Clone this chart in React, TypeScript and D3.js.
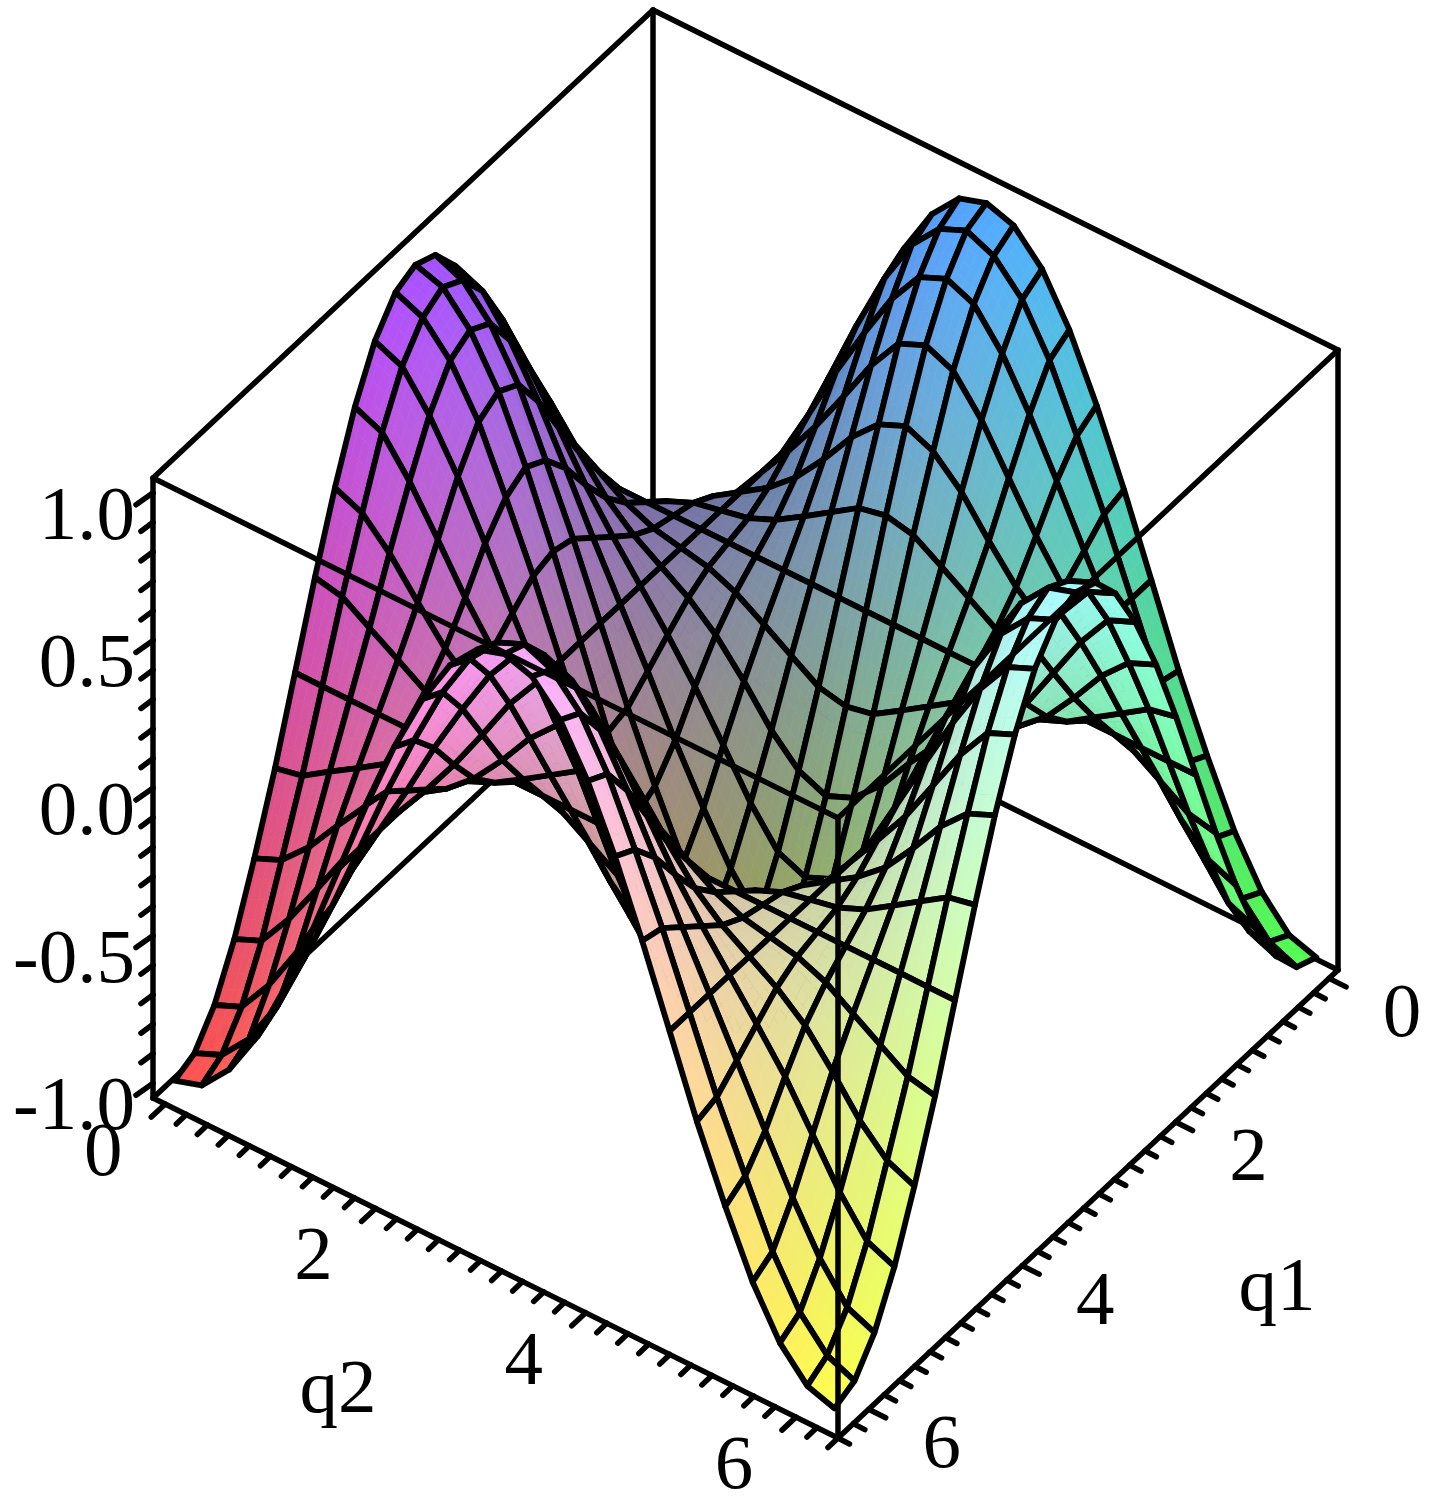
import React, { useMemo } from "react";
import * as d3 from "d3";

// grid positions along both axes (radians)
const q1Values = [0,.26,.52,.79,1.05,1.31,1.57,1.83,2.09,2.36,2.62,2.88,3.14,3.40,3.67,3.93,4.19,4.45,4.71,4.97,5.24,5.50,5.76,6.02,6.28];
const q2Values = [0,.26,.52,.79,1.05,1.31,1.57,1.83,2.09,2.36,2.62,2.88,3.14,3.40,3.67,3.93,4.19,4.45,4.71,4.97,5.24,5.50,5.76,6.02,6.28];

const low0 = [-1,-.97,-.87,-.71,-.5,-.26,0,.26,.5,.71,.87,.97,1,.97,.87,.71,.5,.26,0,-.26,-.5,-.71,-.87,-.97,-1];
const low1 = [-.97,-.93,-.83,-.67,-.46,-.24,0,.24,.46,.67,.83,.93,.97,.93,.83,.67,.46,.24,0,-.24,-.46,-.67,-.83,-.93,-.97];
const low2 = [-.87,-.83,-.71,-.55,-.37,-.18,0,.18,.37,.55,.71,.83,.87,.83,.71,.55,.37,.18,0,-.18,-.37,-.55,-.71,-.83,-.87];
const low3 = [-.71,-.67,-.55,-.4,-.25,-.12,0,.12,.25,.4,.55,.67,.71,.67,.55,.4,.25,.12,0,-.12,-.25,-.4,-.55,-.67,-.71];
const low4 = [-.5,-.46,-.37,-.25,-.14,-.06,0,.06,.14,.25,.37,.46,.5,.46,.37,.25,.14,.06,0,-.06,-.14,-.25,-.37,-.46,-.5];
const low5 = [-.26,-.24,-.18,-.12,-.06,-.02,0,.02,.06,.12,.18,.24,.26,.24,.18,.12,.06,.02,0,-.02,-.06,-.12,-.18,-.24,-.26];
const flat = [0,0,0,0,0,0,0,0,0,0,0,0,0,0,0,0,0,0,0,0,0,0,0,0,0];
const high5 = [.26,.24,.18,.12,.06,.02,0,-.02,-.06,-.12,-.18,-.24,-.26,-.24,-.18,-.12,-.06,-.02,0,.02,.06,.12,.18,.24,.26];
const high4 = [.5,.46,.37,.25,.14,.06,0,-.06,-.14,-.25,-.37,-.46,-.5,-.46,-.37,-.25,-.14,-.06,0,.06,.14,.25,.37,.46,.5];
const high3 = [.71,.67,.55,.4,.25,.12,0,-.12,-.25,-.4,-.55,-.67,-.71,-.67,-.55,-.4,-.25,-.12,0,.12,.25,.4,.55,.67,.71];
const high2 = [.87,.83,.71,.55,.37,.18,0,-.18,-.37,-.55,-.71,-.83,-.87,-.83,-.71,-.55,-.37,-.18,0,.18,.37,.55,.71,.83,.87];
const high1 = [.97,.93,.83,.67,.46,.24,0,-.24,-.46,-.67,-.83,-.93,-.97,-.93,-.83,-.67,-.46,-.24,0,.24,.46,.67,.83,.93,.97];
const high0 = [1,.97,.87,.71,.5,.26,0,-.26,-.5,-.71,-.87,-.97,-1,-.97,-.87,-.71,-.5,-.26,0,.26,.5,.71,.87,.97,1];
const zRows = [low0,low1,low2,low3,low4,low5,flat,high5,high4,high3,high2,high1,high0,high1,high2,high3,high4,high5,flat,low5,low4,low3,low2,low1,low0];

const qDomain = [-0.117, 6.4];
const zDomain = [-1.05, 1.05];
const qMinorTicks = [0,.2,.4,.6,.8,1,1.2,1.4,1.6,1.8,2,2.2,2.4,2.6,2.8,3,3.2,3.4,3.6,3.8,4,4.2,4.4,4.6,4.8,5,5.2,5.4,5.6,5.8,6,6.2,6.4];
const qMajorTicks = [0, 2, 4, 6];
const zMinorTicks = [-1,-.9,-.8,-.7,-.6,-.5,-.4,-.3,-.2,-.1,0,.1,.2,.3,.4,.5,.6,.7,.8,.9,1];
const zMajorTicks = ["-1.0", "-0.5", "0.0", "0.5", "1.0"];

const FONT = "'Liberation Serif', serif";
const L = [153, 1098];
const DS = [685, 340];
const DT = [500, -468];
const H = 620;

const sScale = d3.scaleLinear().domain(qDomain).range([0, 1]); // q2
const tScale = d3.scaleLinear().domain(qDomain).range([1, 0]); // q1
const hScale = d3.scaleLinear().domain(zDomain).range([0, H]);
const chan = d3.scaleLinear().domain([0, 1]).range([80, 255]);
const q1Col = d3.scaleLinear().domain([0, 6.28]).range([0, 1]);
const zCol = d3.scaleLinear().domain([-1, 1]).range([0, 1]);

const base = (s: number, t: number, h = 0): [number, number] => [
  L[0] + s * DS[0] + t * DT[0],
  L[1] + s * DS[1] + t * DT[1] - h,
];
const proj = (q1: number, q2: number, z: number) => base(sScale(q2), tScale(q1), hScale(z));
const pathOf = (pts: number[][]) => "M" + pts.map((p) => p[0].toFixed(1) + "," + p[1].toFixed(1)).join("L") + "Z";
const lineOf = (a: number[], b: number[]) => ({ x1: a[0], y1: a[1], x2: b[0], y2: b[1] });
const colorOf = (q1: number, q2: number, z: number) =>
  `rgb(${chan(q1Col(q1)).toFixed(0)},${chan(q1Col(q2)).toFixed(0)},${chan(zCol(z)).toFixed(0)})`;

const SUB = 4;

function Surface() {
  const els = useMemo(() => {
    const out: any[] = [];
    for (let i = 0; i < q1Values.length - 1; i++) {
      for (let j = 0; j < q2Values.length - 1; j++) {
        const a1 = q1Values[i], b1 = q1Values[i + 1], a2 = q2Values[j], b2 = q2Values[j + 1];
        const z00 = zRows[i][j], z01 = zRows[i][j + 1], z10 = zRows[i + 1][j], z11 = zRows[i + 1][j + 1];
        const corner = (u: number, v: number) => {
          const q1 = a1 + (b1 - a1) * u;
          const q2 = a2 + (b2 - a2) * v;
          const z = z00 * (1 - u) * (1 - v) + z01 * (1 - u) * v + z10 * u * (1 - v) + z11 * u * v;
          return { q1, q2, z };
        };
        for (let m = 0; m < SUB; m++) {
          for (let n = 0; n < SUB; n++) {
            const pts = [[m, n], [m, n + 1], [m + 1, n + 1], [m + 1, n]].map(([x, y]) => {
              const c = corner(x / SUB, y / SUB);
              return proj(c.q1, c.q2, c.z);
            });
            const c = corner((m + 0.5) / SUB, (n + 0.5) / SUB);
            const col = colorOf(c.q1, c.q2, c.z);
            out.push(<path key={`f${i}-${j}-${m}-${n}`} d={pathOf(pts)} fill={col} stroke={col} strokeWidth={0.7} />);
          }
        }
        out.push(
          <path
            key={`c${i}-${j}`}
            d={pathOf([proj(a1, a2, z00), proj(a1, b2, z01), proj(b1, b2, z11), proj(b1, a2, z10)])}
            fill="none"
            stroke="#000"
            strokeWidth={5.8}
            strokeLinejoin="round"
          />
        );
      }
    }
    return out;
  }, []);
  return <g>{els}</g>;
}

export default function App() {
  const c = {
    l: base(0, 0), f: base(1, 0), r: base(1, 1), b: base(0, 1),
    lt: base(0, 0, H), ft: base(1, 0, H), rt: base(1, 1, H), bt: base(0, 1, H),
  };
  const box = { stroke: "#000", strokeWidth: 5.5, strokeLinecap: "round" as const };
  const txt = { fontFamily: FONT, fontSize: 77, fill: "#000" };
  return (
    <svg width={1434} height={1505} style={{ position: "absolute", left: 0, top: 0, background: "#fff" }}>
      {/* rear box edges */}
      <line {...lineOf(c.lt, c.bt)} {...box} />
      <line {...lineOf(c.bt, c.rt)} {...box} />
      <line {...lineOf(c.bt, c.b)} {...box} />
      <line {...lineOf(c.l, c.b)} {...box} />
      <line {...lineOf(c.b, c.r)} {...box} />
      <Surface />
      {/* front box edges */}
      <line {...lineOf(c.lt, c.ft)} {...box} />
      <line {...lineOf(c.ft, c.rt)} {...box} />
      <line {...lineOf(c.ft, c.f)} {...box} />
      <line {...lineOf(c.lt, c.l)} {...box} />
      <line {...lineOf(c.rt, c.r)} {...box} />
      <line {...lineOf(c.l, c.f)} {...box} />
      <line {...lineOf(c.f, c.r)} {...box} />
      {/* z ticks */}
      {zMinorTicks.map((z) => {
        const p = base(0, 0, hScale(z));
        const major = Math.abs(z * 2 - Math.round(z * 2)) < 1e-6;
        return <line key={"zt" + z} x1={p[0]} y1={p[1]} x2={p[0] - (major ? 17 : 12)} y2={p[1] + (major ? 12 : 9)} {...box} />;
      })}
      {zMajorTicks.map((l) => (
        <text key={"zl" + l} x={135} y={L[1] - hScale(+l) + 46} textAnchor="end" {...txt}>{l}</text>
      ))}
      {/* q2 ticks */}
      {qMinorTicks.map((q) => {
        const p = base(sScale(q), 0);
        const major = qMajorTicks.includes(q);
        return <line key={"q2t" + q} x1={p[0]} y1={p[1]} x2={p[0] - (major ? 14 : 10)} y2={p[1] + (major ? 13 : 9.5)} {...box} />;
      })}
      {qMajorTicks.map((q) => {
        const p = base(sScale(q), 0);
        return <text key={"q2l" + q} x={p[0] - 62} y={p[1] + 71} textAnchor="middle" {...txt}>{q}</text>;
      })}
      {/* q1 ticks */}
      {qMinorTicks.map((q) => {
        const p = base(1, tScale(q));
        const major = qMajorTicks.includes(q);
        return <line key={"q1t" + q} x1={p[0]} y1={p[1]} x2={p[0] + (major ? 17 : 11.5)} y2={p[1] + (major ? 8.5 : 6)} {...box} />;
      })}
      {qMajorTicks.map((q) => {
        const p = base(1, tScale(q));
        return <text key={"q1l" + q} x={p[0] + 73} y={p[1] + 58} textAnchor="middle" {...txt}>{q}</text>;
      })}
      <text x={1277} y={1310} textAnchor="middle" {...txt}>q1</text>
      <text x={338} y={1412} textAnchor="middle" {...txt}>q2</text>
    </svg>
  );
}
